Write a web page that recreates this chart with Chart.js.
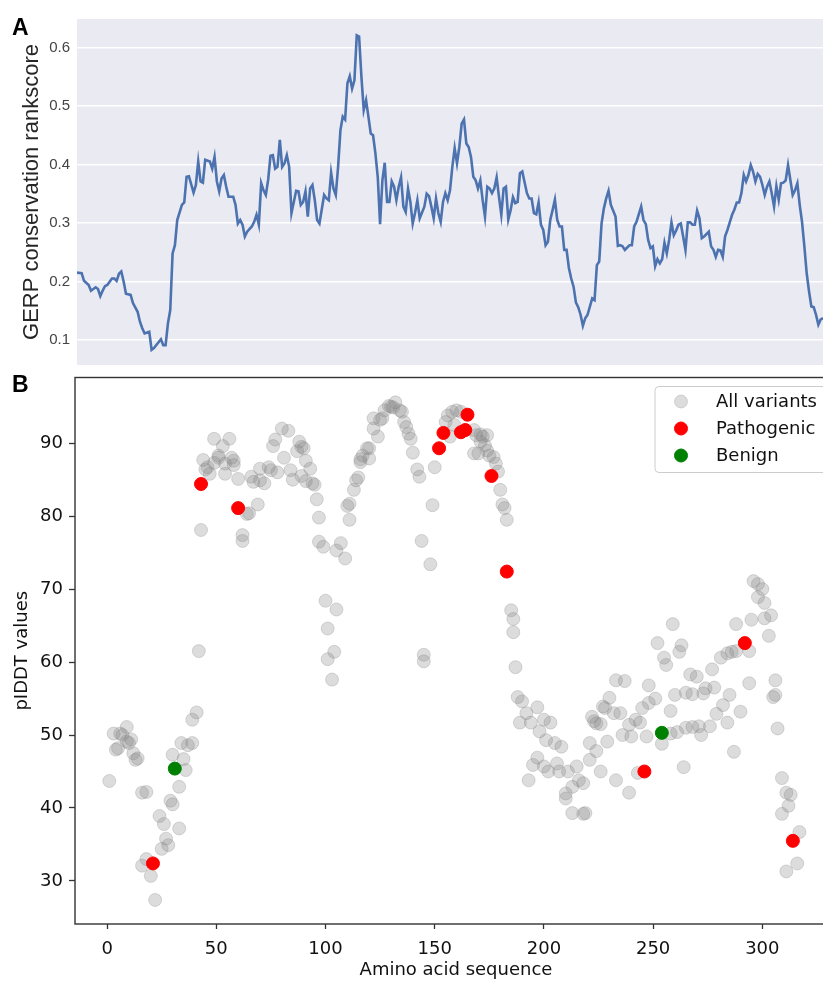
<!DOCTYPE html>
<html>
<head>
<meta charset="utf-8">
<script src="https://cdn.jsdelivr.net/npm/chart.js@4.4.1/dist/chart.umd.min.js"></script>
<style>
  html, body { margin: 0; padding: 0; background: #fff; overflow: hidden; }
  #page { position: relative; width: 823px; height: 981px; overflow: hidden; }
  .panel { position: absolute; left: 0; width: 850px; }
  .panel canvas { display: block; width: 850px; }
  .tag { position: absolute; left: 12px; font: bold 23px "Liberation Sans", Arial, sans-serif; line-height: 24px; color: #000; }
</style>
</head>
<body>
<div id="page">
  <div class="panel" style="top:0; height:370px"><canvas id="gerpChart" width="850" height="370" style="height:370px"></canvas></div>
  <div class="panel" style="top:370px; height:611px"><canvas id="plddtChart" width="850" height="611" style="height:611px"></canvas></div>
  <div class="tag" style="top:15px">A</div>
  <div class="tag" style="top:372px">B</div>
</div>
<script>
// panel A: GERP conservation rankscore along the sequence
const gerpPos = [
  1, 3, 4, 6, 7, 9, 10, 11, 12, 13, 14, 16, 17, 18, 19, 20, 21, 22, 24, 25,
  27, 28, 29, 30, 32, 33, 34, 37, 38, 39, 40, 41, 42, 43, 44, 46, 47, 48, 49, 51,
  52, 53, 54, 55, 56, 58, 59, 60, 61, 62, 63, 64, 65, 66, 68, 69, 70, 71, 72, 73,
  74, 76, 77, 78, 79, 80, 81, 82, 83, 84, 85, 86, 87, 88, 89, 90, 91, 92, 93, 94,
  95, 96, 97, 98, 99, 100, 101, 102, 103, 104, 105, 107, 108, 109, 110, 111, 112, 113, 114, 115,
  116, 117, 118, 119, 120, 121, 122, 123, 124, 125, 126, 127, 128, 129, 130, 131, 132, 133, 134, 135,
  136, 137, 138, 139, 140, 141, 142, 143, 144, 145, 146, 147, 148, 150, 151, 152, 153, 154, 155, 156,
  157, 158, 159, 160, 161, 162, 163, 164, 165, 166, 167, 168, 169, 170, 171, 172, 173, 174, 175, 176,
  177, 178, 179, 180, 181, 182, 183, 184, 185, 186, 187, 188, 189, 190, 191, 192, 194, 195, 196, 197,
  198, 199, 200, 201, 202, 203, 204, 205, 206, 207, 208, 209, 210, 211, 212, 213, 214, 215, 216, 217,
  218, 219, 220, 222, 223, 224, 225, 226, 227, 228, 229, 230, 232, 233, 234, 235, 236, 237, 238, 239,
  240, 241, 242, 243, 244, 245, 246, 247, 248, 249, 250, 251, 252, 253, 254, 255, 256, 257, 258, 259,
  260, 261, 262, 263, 264, 265, 266, 267, 268, 269, 270, 272, 273, 274, 275, 276, 277, 278, 279, 280,
  281, 282, 283, 284, 285, 286, 287, 288, 289, 290, 291, 292, 293, 294, 295, 296, 297, 298, 299, 300,
  301, 302, 303, 304, 305, 306, 308, 309, 310, 311, 312, 313, 314, 315, 316, 317, 318, 319, 320, 321
];
const gerpScore = [
  .215, .214, .201, .194, .184, .190, .187, .175, .184, .192, .194, .205, .205, .201, .213, .217, .200, .179, .177, .163,
  .148, .131, .120, .111, .114, .083, .086, .101, .091, .091, .128, .151, .248, .262, .305, .331, .335, .379, .380, .352,
  .365, .405, .371, .369, .408, .405, .393, .413, .371, .354, .376, .382, .362, .345, .345, .331, .299, .305, .297, .277,
  .285, .294, .302, .314, .297, .368, .356, .348, .374, .415, .416, .393, .396, .442, .396, .402, .416, .396, .317, .336,
  .355, .354, .331, .336, .354, .311, .359, .365, .339, .305, .299, .348, .342, .339, .386, .359, .348, .396, .459, .482,
  .477, .539, .551, .530, .544, .621, .619, .550, .493, .510, .482, .453, .450, .419, .379, .298, .373, .403, .336, .336,
  .371, .362, .339, .362, .378, .328, .319, .359, .336, .299, .317, .339, .308, .328, .350, .346, .328, .308, .342, .317,
  .302, .336, .351, .339, .356, .396, .428, .402, .430, .470, .477, .436, .430, .413, .379, .373, .359, .373, .339, .311,
  .362, .359, .351, .359, .378, .345, .314, .359, .362, .306, .322, .344, .334, .336, .385, .388, .351, .342, .342, .317,
  .315, .335, .297, .288, .262, .268, .305, .322, .340, .305, .294, .294, .254, .254, .223, .205, .191, .164, .156, .143,
  .124, .137, .143, .171, .168, .228, .234, .299, .325, .342, .355, .331, .311, .261, .262, .260, .254, .258, .262, .262,
  .294, .302, .315, .328, .305, .298, .271, .257, .260, .226, .238, .231, .238, .266, .248, .271, .301, .279, .287, .297,
  .299, .277, .254, .301, .301, .297, .297, .321, .308, .274, .277, .285, .260, .254, .242, .254, .253, .242, .277, .288,
  .301, .314, .323, .335, .335, .351, .382, .371, .382, .399, .388, .371, .384, .379, .365, .348, .362, .371, .351, .328,
  .363, .340, .368, .369, .373, .399, .348, .356, .368, .331, .302, .260, .214, .183, .157, .156, .143, .126, .135, .137
];
const gerpTicks = [0.1, 0.2, 0.3, 0.4, 0.5, 0.6];

// panel B: pIDDT per variant position
const allPos = [
  1, 3, 4, 5, 6, 7, 9, 9, 10, 11, 12, 13, 14, 16, 18, 16, 18, 20, 22, 24,
  25, 26, 27, 28, 29, 30, 30, 33, 33, 34, 35, 36, 37, 39, 39, 41, 42, 43, 44, 45,
  46, 47, 49, 49, 51, 51, 53, 54, 54, 56, 57, 58, 58, 60, 62, 62, 64, 65, 66, 67,
  69, 70, 70, 72, 74, 75, 76, 77, 78, 80, 81, 83, 84, 85, 87, 88, 89, 90, 91, 89,
  91, 93, 94, 95, 96, 97, 97, 99, 100, 101, 101, 103, 104, 105, 105, 107, 109, 110, 111, 111,
  113, 114, 115, 116, 116, 117, 119, 120, 120, 122, 122, 124, 125, 126, 127, 129, 130, 131, 132, 134,
  135, 136, 137, 138, 139, 140, 142, 143, 144, 145, 145, 148, 149, 150, 155, 156, 157, 158, 159, 160,
  162, 168, 168, 169, 170, 171, 171, 172, 173, 174, 174, 175, 177, 178, 179, 180, 181, 182, 183, 185,
  186, 186, 187, 188, 190, 192, 189, 194, 197, 200, 203, 198, 201, 205, 208, 197, 195, 200, 202, 206,
  207, 211, 215, 193, 221, 216, 218, 213, 210, 210, 213, 218, 219, 222, 223, 224, 226, 227, 228, 230,
  232, 235, 236, 239, 240, 242, 244, 247, 233, 239, 226, 229, 224, 221, 245, 248, 251, 248, 233, 237,
  243, 254, 258, 261, 265, 268, 271, 272, 276, 258, 260, 265, 268, 273, 274, 278, 277, 279, 282, 284,
  285, 287, 290, 264, 252, 255, 256, 259, 262, 263, 267, 270, 281, 284, 286, 288, 294, 288, 295, 301,
  304, 303, 296, 298, 300, 298, 301, 294, 306, 305, 306, 307, 309, 311, 313, 312, 309, 317, 316, 311
];
const allPlddt = [
  43.7, 50.2, 48.0, 48.2, 50.2, 50.0, 51.1, 49.1, 48.9, 49.4, 47.5, 46.6, 46.8, 42.1, 42.2, 32.1, 33.0, 30.7, 27.4, 38.9,
  34.4, 37.8, 35.8, 34.9, 41.0, 40.5, 47.3, 37.2, 42.9, 48.9, 46.7, 45.2, 48.6, 52.1, 48.9, 53.1, 61.5, 78.1, 87.7, 86.4,
  86.7, 85.8, 90.6, 87.3, 88.0, 88.3, 89.6, 85.8, 87.2, 90.6, 88.0, 87.6, 87.0, 85.1, 77.4, 76.6, 80.3, 80.4, 85.4, 84.7,
  81.6, 86.5, 84.9, 84.5, 86.7, 86.3, 89.6, 90.5, 86.0, 92.0, 88.0, 91.7, 86.3, 85.0, 88.9, 90.2, 89.5, 89.3, 87.6, 85.5,
  84.8, 86.5, 84.5, 84.3, 82.3, 79.8, 76.5, 75.8, 68.4, 64.6, 60.4, 57.6, 61.4, 67.2, 75.3, 76.3, 74.2, 81.4, 81.7, 79.5,
  83.6, 84.9, 85.3, 87.4, 87.8, 88.3, 89.3, 87.9, 89.3, 92.0, 93.4, 90.9, 93.2, 93.4, 94.5, 95.1, 95.0, 94.9, 95.6, 94.5,
  94.3, 92.9, 92.2, 91.3, 90.6, 88.7, 86.4, 85.4, 76.6, 61.0, 60.1, 73.4, 81.5, 86.7, 92.9, 93.8, 90.9, 94.3, 92.5, 94.5,
  94.3, 91.8, 88.6, 91.1, 88.6, 91.2, 90.2, 90.9, 89.7, 91.1, 89.0, 88.3, 88.1, 87.2, 86.1, 83.6, 81.6, 81.1, 79.5, 67.1,
  65.9, 64.1, 59.3, 55.2, 54.6, 53.0, 51.7, 51.7, 53.8, 52.1, 51.7, 50.5, 49.3, 48.9, 48.4, 46.9, 45.9, 45.7, 45.0, 46.1,
  45.0, 45.0, 45.7, 43.8, 46.6, 43.8, 43.4, 42.9, 42.0, 41.3, 39.3, 39.2, 39.3, 52.5, 51.9, 51.6, 51.5, 53.9, 53.7, 55.1,
  53.0, 53.0, 50.0, 51.4, 49.8, 52.1, 51.7, 49.8, 43.8, 42.1, 45.0, 49.1, 47.8, 48.9, 53.7, 54.4, 55.0, 56.8, 57.5, 57.4,
  44.8, 48.8, 50.2, 50.4, 51.0, 51.1, 51.2, 50.0, 51.2, 53.3, 55.5, 55.8, 55.6, 55.7, 56.4, 56.5, 59.0, 52.9, 54.1, 51.7,
  55.5, 47.7, 53.2, 45.6, 62.6, 60.6, 59.6, 65.2, 61.4, 62.3, 58.3, 58.0, 60.6, 61.2, 61.4, 61.5, 61.5, 65.2, 65.8, 66.0,
  66.4, 63.6, 71.1, 70.7, 70.0, 68.9, 68.1, 57.1, 57.5, 55.2, 55.5, 50.9, 44.1, 42.1, 41.8, 40.3, 39.2, 36.7, 32.4, 31.3
];
const pathPos = [21, 43, 60, 152, 154, 162, 164, 165, 176, 183, 246, 292, 314];
const pathPlddt = [32.4, 84.4, 81.1, 89.3, 91.4, 91.5, 91.8, 93.9, 85.5, 72.4, 45.0, 62.6, 35.5];
const benignPos = [31, 254];
const benignPlddt = [45.4, 50.3];
const seqTicks = [0, 50, 100, 150, 200, 250, 300];
const plddtTicks = [30, 40, 50, 60, 70, 80, 90];

const toXY = (xs, ys) => xs.map((x, i) => ({ x: x, y: ys[i] }));
const fixTicks = vals => scale => { scale.ticks = vals.map(v => ({ value: v })); };

const plotBg = {
  id: 'plotBg',
  beforeDraw(chart, args, opts) {
    const { ctx, chartArea: a } = chart;
    ctx.save();
    ctx.fillStyle = opts.color;
    ctx.fillRect(a.left, a.top, a.right - a.left, a.bottom - a.top);
    ctx.restore();
  }
};

const frame = {
  id: 'frame',
  afterDatasetsDraw(chart) {
    const { ctx, chartArea: a } = chart;
    ctx.save();
    ctx.strokeStyle = '#333';
    ctx.lineWidth = 1.4;
    ctx.strokeRect(a.left, a.top, a.right - a.left, a.bottom - a.top);
    ctx.restore();
  }
};

// legend box inside the upper right corner, like matplotlib's
const insideLegend = {
  id: 'insideLegend',
  afterDraw(chart) {
    const { ctx, chartArea: a } = chart;
    const sets = chart.data.datasets;
    const w = 173, rowH = 27, h = 86;
    const left = a.right - 9 - w, top = a.top + 9;
    ctx.save();
    ctx.beginPath();
    ctx.roundRect(left, top, w, h, 4);
    ctx.fillStyle = 'rgba(255,255,255,0.8)';
    ctx.fill();
    ctx.strokeStyle = '#cccccc';
    ctx.lineWidth = 1;
    ctx.stroke();
    ctx.font = '18px "DejaVu Sans"';
    ctx.textBaseline = 'middle';
    sets.forEach((ds, i) => {
      const y = top + 15 + i * rowH;
      ctx.beginPath();
      ctx.arc(left + 26, y, 6.5, 0, Math.PI * 2);
      ctx.fillStyle = ds.backgroundColor;
      ctx.fill();
      ctx.strokeStyle = ds.borderColor;
      ctx.lineWidth = ds.borderWidth;
      ctx.stroke();
      ctx.fillStyle = '#111';
      ctx.fillText(ds.label, left + 61, y + 1);
    });
    ctx.restore();
  }
};

const arial = '"Liberation Sans", Arial, sans-serif';
const dejavu = '"DejaVu Sans", sans-serif';

new Chart(document.getElementById('gerpChart'), {
  type: 'line',
  data: {
    datasets: [{
      data: toXY(gerpPos, gerpScore),
      borderColor: '#4c72b0',
      borderWidth: 2.6,
      pointRadius: 0,
      tension: 0
    }]
  },
  options: {
    responsive: false,
    animation: false,
    devicePixelRatio: 1,
    layout: { padding: { top: 19, right: 13, bottom: 5, left: 0 } },
    plugins: {
      legend: { display: false },
      tooltip: { enabled: false },
      plotBg: { color: '#eaeaf2' }
    },
    scales: {
      x: { type: 'linear', min: 1, max: 327, display: false },
      y: {
        min: 0.057,
        max: 0.649,
        afterFit: s => { s.width = 77; s.paddingTop = 0; s.paddingBottom = 0; },
        afterBuildTicks: fixTicks(gerpTicks),
        ticks: {
          padding: 7,
          color: '#444',
          font: { family: arial, size: 15 },
          callback: v => v.toFixed(1)
        },
        grid: { color: '#ffffff', lineWidth: 1.5, drawTicks: false },
        border: { display: false },
        title: {
          display: true,
          text: 'GERP conservation rankscore',
          color: '#262626',
          font: { family: arial, size: 22 },
          padding: { top: 19, bottom: 0 }
        }
      }
    }
  },
  plugins: [plotBg]
});

new Chart(document.getElementById('plddtChart'), {
  type: 'scatter',
  data: {
    datasets: [
      {
        label: 'All variants',
        data: toXY(allPos, allPlddt),
        backgroundColor: 'rgba(128,128,128,0.28)',
        borderColor: 'rgba(128,128,128,0.28)',
        borderWidth: 1,
        pointRadius: 6.5,
        order: 3
      },
      {
        label: 'Pathogenic',
        data: toXY(pathPos, pathPlddt),
        backgroundColor: '#ff0000',
        borderColor: '#ff0000',
        borderWidth: 1,
        pointRadius: 6.5,
        order: 2
      },
      {
        label: 'Benign',
        data: toXY(benignPos, benignPlddt),
        backgroundColor: '#008000',
        borderColor: '#008000',
        borderWidth: 1,
        pointRadius: 6.5,
        order: 1
      }
    ]
  },
  options: {
    responsive: false,
    animation: false,
    devicePixelRatio: 1,
    layout: { padding: { top: 7, right: 13, bottom: 0, left: 0 } },
    plugins: { legend: { display: false }, tooltip: { enabled: false } },
    scales: {
      x: {
        type: 'linear',
        min: -14.7,
        max: 334.2,
        afterFit: s => { s.height = 57; s.paddingLeft = 0; s.paddingRight = 0; },
        afterBuildTicks: fixTicks(seqTicks),
        ticks: {
          padding: 10,
          color: '#111',
          font: { family: dejavu, size: 18 }
        },
        grid: { display: true, drawOnChartArea: false, drawTicks: true, tickLength: 5, tickColor: '#333', tickWidth: 1.3 },
        border: { display: false },
        title: {
          display: true,
          text: 'Amino acid sequence',
          color: '#111',
          font: { family: dejavu, size: 18 },
          padding: { top: 0, bottom: 0 }
        }
      },
      y: {
        min: 24.1,
        max: 99,
        afterFit: s => { s.width = 75; s.paddingTop = 0; s.paddingBottom = 0; },
        afterBuildTicks: fixTicks(plddtTicks),
        ticks: {
          padding: 6,
          color: '#111',
          font: { family: dejavu, size: 18 }
        },
        grid: { display: true, drawOnChartArea: false, drawTicks: true, tickLength: 6, tickColor: '#333', tickWidth: 1.3 },
        border: { display: false },
        title: {
          display: true,
          text: 'pIDDT values',
          color: '#111',
          font: { family: dejavu, size: 18 },
          padding: { top: 12, bottom: 0 }
        }
      }
    }
  },
  plugins: [frame, insideLegend]
});
</script>
</body>
</html>
